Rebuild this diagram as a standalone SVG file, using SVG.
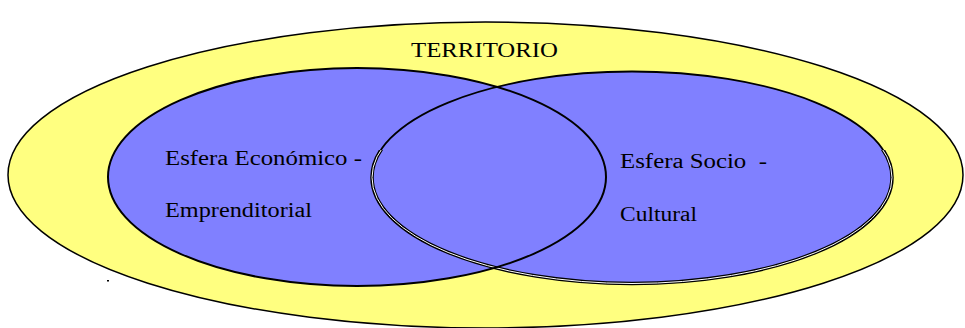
<svg xmlns="http://www.w3.org/2000/svg" width="965" height="328" viewBox="0 0 965 328">
<style>
.lbl{font-family:"Liberation Serif","Times New Roman",serif;fill:#000;}
.ln{fill:none;stroke:#000;}
</style>
<defs>
<clipPath id="lower"><rect x="0" y="150" width="965" height="178"/></clipPath>
</defs>
<rect width="965" height="328" fill="#fff"/>
<g id="territorio">
<ellipse cx="485.5" cy="175" rx="477.5" ry="153" fill="#ffff80" stroke="#000" stroke-width="1.5"/>
<text class="lbl" x="411" y="57" font-size="22" textLength="147" lengthAdjust="spacingAndGlyphs">TERRITORIO</text>
</g>
<g id="esfera-economica">
<ellipse cx="357" cy="177" rx="249" ry="109" fill="#8080ff"/>
</g>
<g id="esfera-socio">
<ellipse cx="632" cy="177.5" rx="260" ry="106" fill="#8080ff"/>
</g>
<g id="outlines">
<ellipse class="ln" cx="632" cy="177.5" rx="260" ry="106" stroke-width="1.8"/>
<ellipse class="ln" cx="632" cy="177.5" rx="260" ry="106" stroke-width="3.5" clip-path="url(#lower)"/>
<ellipse cx="632" cy="177.5" rx="260" ry="106" fill="none" stroke="#fff" stroke-width="1" clip-path="url(#lower)"/>
<ellipse class="ln" cx="357" cy="177" rx="249" ry="109" stroke-width="2"/>
</g>
<g id="labels">
<text class="lbl" x="165" y="165" font-size="20" textLength="197" lengthAdjust="spacingAndGlyphs">Esfera Económico -</text>
<text class="lbl" x="165" y="217" font-size="20" textLength="147" lengthAdjust="spacingAndGlyphs">Emprenditorial</text>
<text class="lbl" x="620" y="168" font-size="20" textLength="147" lengthAdjust="spacingAndGlyphs" xml:space="preserve">Esfera Socio  -</text>
<text class="lbl" x="620" y="221" font-size="20" textLength="77" lengthAdjust="spacingAndGlyphs">Cultural</text>
</g>
<rect x="107" y="280" width="2" height="1.5" fill="#000"/>
</svg>
